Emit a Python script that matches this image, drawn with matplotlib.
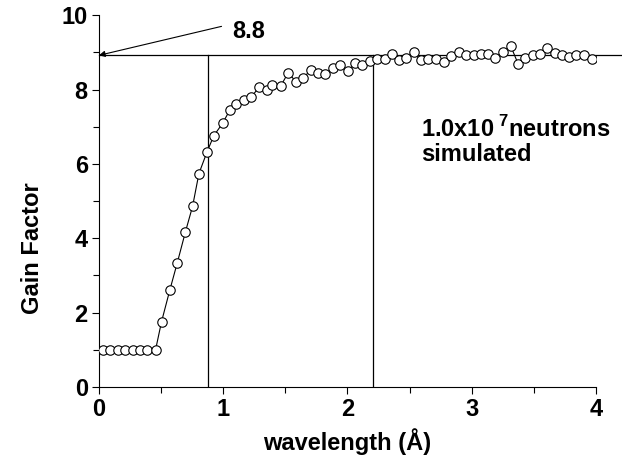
import numpy as np
import matplotlib.pyplot as plt

plt.rcParams['font.family'] = ['Liberation Sans', 'DejaVu Sans']
plt.rcParams['font.weight'] = 'bold'
plt.rcParams['mathtext.fontset'] = 'custom'
plt.rcParams['mathtext.bf'] = 'Liberation Sans:bold'
plt.rcParams['mathtext.rm'] = 'Liberation Sans:bold'

# wavelength (A) and gain factor
wavelength = [0.03, 0.089, 0.156, 0.209, 0.276, 0.33, 0.389, 0.456,
              0.504, 0.571, 0.63, 0.697, 0.754, 0.805, 0.871, 0.925,
              0.995, 1.054, 1.102, 1.167, 1.225, 1.29, 1.349, 1.397,
              1.464, 1.523, 1.59, 1.644, 1.706, 1.762, 1.82, 1.885,
              1.944, 2.006, 2.06, 2.118, 2.18, 2.239, 2.30, 2.357,
              2.416, 2.475, 2.534, 2.59, 2.652, 2.717, 2.776, 2.837,
              2.896, 2.958, 3.017, 3.079, 3.132, 3.191, 3.25, 3.315,
              3.373, 3.433, 3.492, 3.548, 3.61, 3.674, 3.727, 3.784,
              3.843, 3.907, 3.969]
gain = [1.0, 1.0, 1.0, 1.0, 1.0, 1.0, 1.0, 1.0,
        1.755, 2.61, 3.33, 4.18, 4.86, 5.74, 6.33, 6.76,
        7.09, 7.45, 7.6, 7.73, 7.8, 8.06, 7.98, 8.11,
        8.1, 8.45, 8.2, 8.31, 8.53, 8.45, 8.41, 8.58,
        8.66, 8.49, 8.71, 8.66, 8.76, 8.83, 8.83, 8.96,
        8.79, 8.86, 9.0, 8.79, 8.83, 8.83, 8.74, 8.91,
        9.0, 8.94, 8.92, 8.95, 8.95, 8.86, 9.01, 9.17,
        8.7, 8.86, 8.92, 8.97, 9.13, 8.99, 8.92, 8.88,
        8.92, 8.92, 8.83]

plateau = 8.92          # drawn line (labelled 8.8)
cut_lo, cut_hi = 0.88, 2.21
fs = 17

fig = plt.figure(figsize=(6.22, 4.61), dpi=100)
ax = fig.add_axes([0.159, 0.1605, 0.799, 0.8065])

ax.plot(wavelength, gain, '-o', color='black', lw=0.8,
        markersize=6.8, markerfacecolor='white', markeredgecolor='black',
        markeredgewidth=0.8, zorder=3)

# reference lines
ax.plot([0, 4.2], [plateau, plateau], color='black', lw=0.9, clip_on=False)
ax.plot([cut_lo, cut_lo], [0, plateau], color='black', lw=0.9)
ax.plot([cut_hi, cut_hi], [0, plateau], color='black', lw=0.9)

ax.annotate('', xy=(0.0, plateau), xytext=(0.987, 9.70),
            arrowprops=dict(arrowstyle='-|>', color='black', lw=0.8,
                            mutation_scale=9, shrinkA=0, shrinkB=0))
ax.text(1.07, 9.55, '8.8', fontsize=fs, fontweight='bold',
        va='center', ha='left')

ax.text(2.595, 6.62, r'1.0x10$^{\;\mathbf{7}}$neutrons' + '\nsimulated',
        fontsize=fs, fontweight='bold', va='center', ha='left',
        linespacing=1.07)

ax.set_xlim(0, 4)
ax.set_ylim(0, 10)
ax.set_xticks([0, 1, 2, 3, 4])
ax.set_xticks(np.arange(0, 4.01, 0.5), minor=True)
ax.set_yticks([0, 2, 4, 6, 8, 10])
ax.set_yticks(np.arange(0, 10.01, 1), minor=True)
ax.tick_params(which='both', direction='out', width=0.8, labelsize=fs)
ax.tick_params(which='major', length=5, pad=3)
ax.tick_params(which='minor', length=4)
for lab in ax.get_xticklabels() + ax.get_yticklabels():
    lab.set_fontweight('bold')

for s in ['top', 'right']:
    ax.spines[s].set_visible(False)
for s in ['left', 'bottom']:
    ax.spines[s].set_linewidth(0.8)

ax.set_xlabel('wavelength (Å)', fontsize=fs, fontweight='bold', labelpad=5)
fig.text(0.052, 1 - 248 / 461, 'Gain Factor', rotation=90, fontsize=fs,
         fontweight='bold', ha='center', va='center')

fig.savefig('out.png', dpi=100)
